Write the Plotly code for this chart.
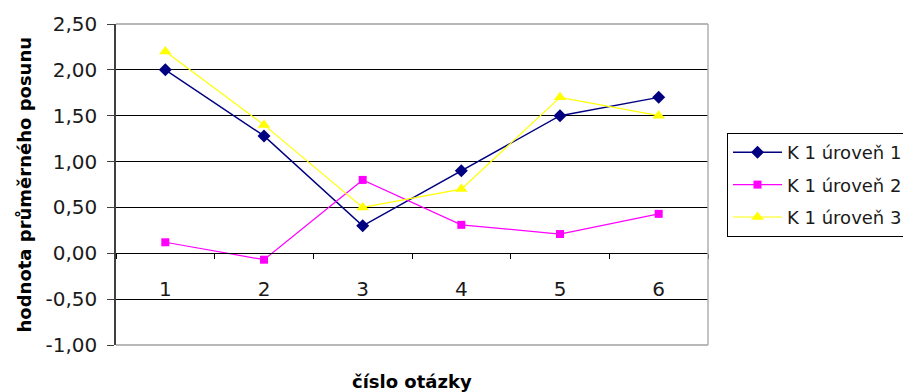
import plotly.graph_objects as go

# Question numbers (category axis) and mean shift per level
questions = ["1", "2", "3", "4", "5", "6"]
level_1 = [2.00, 1.28, 0.30, 0.90, 1.50, 1.70]
level_2 = [0.12, -0.07, 0.80, 0.31, 0.21, 0.43]
level_3 = [2.20, 1.40, 0.50, 0.70, 1.70, 1.50]

series_names = ["K 1 úroveň 1", "K 1 úroveň 2", "K 1 úroveň 3"]

y_tick_values = [-1.0, -0.5, 0.0, 0.5, 1.0, 1.5, 2.0, 2.5]
y_tick_labels = ["-1,00", "-0,50", "0,00", "0,50", "1,00", "1,50", "2,00", "2,50"]

Y_MIN, Y_MAX = -1.0, 2.5
TICK_FONT = dict(family="DejaVu Sans", size=20, color="#1a1a1a")

styles = [
    dict(color="#000080", symbol="diamond", size=10, width=1.4),
    dict(color="#FF00FF", symbol="square", size=8, width=1.2),
    dict(color="#FFFF00", symbol="triangle-up", size=11, width=1.2),
]

fig = go.Figure()
for name, values, st in zip(series_names, [level_1, level_2, level_3], styles):
    fig.add_trace(go.Scatter(
        x=questions, y=values, name=name, legendgroup=name,
        mode="lines+markers",
        line=dict(color=st["color"], width=st["width"]),
        marker=dict(color=st["color"], symbol=st["symbol"], size=st["size"],
                    line=dict(width=0)),
    ))

# x axis crosses the value axis at zero
zero_pos = (0 - Y_MIN) / (Y_MAX - Y_MIN)

fig.update_layout(
    width=903, height=392,
    margin=dict(l=116, r=195, t=24, b=47, autoexpand=False),
    paper_bgcolor="white", plot_bgcolor="white",
    showlegend=True,
    legend=dict(
        x=(727 - 116) / 592, y=(345 - 133) / 321,
        xanchor="left", yanchor="top",
        bordercolor="black", borderwidth=1, bgcolor="white",
        font=dict(family="DejaVu Sans", size=18, color="#1a1a1a"),
        tracegroupgap=6, itemwidth=49,
    ),
    xaxis=dict(
        type="category", categoryorder="array", categoryarray=questions,
        range=[-0.5, 5.5],
        anchor="free", position=zero_pos,
        showline=True, linecolor="black", linewidth=1,
        ticks="outside", tickson="boundaries", ticklen=5, tickcolor="black",
        ticklabelstandoff=18,
        showgrid=False, zeroline=False,
        tickfont=TICK_FONT,
    ),
    yaxis=dict(
        range=[Y_MIN, Y_MAX],
        tickvals=y_tick_values, ticktext=y_tick_labels,
        showline=True, linecolor="#404040", linewidth=1.5,
        ticks="outside", ticklen=7, tickcolor="#404040",
        ticklabelstandoff=6,
        showgrid=True, gridcolor="black", gridwidth=1,
        zeroline=False,
        tickfont=TICK_FONT,
    ),
    shapes=[
        dict(type="line", xref="x domain", yref="y domain",
             x0=0, x1=1, y0=1, y1=1, line=dict(color="#a0a0a0", width=1.5)),
        dict(type="line", xref="x domain", yref="y domain",
             x0=0, x1=1, y0=0, y1=0, line=dict(color="#a0a0a0", width=1.5)),
        dict(type="line", xref="x domain", yref="y domain",
             x0=1, x1=1, y0=0, y1=1, line=dict(color="#b0b0b0", width=1.5)),
    ],
    annotations=[
        dict(text="<b>hodnota průměrného posunu</b>", textangle=-90,
             xref="paper", yref="paper", x=(24 - 116) / 592, y=0.5,
             xanchor="center", yanchor="middle", showarrow=False,
             font=dict(family="DejaVu Sans", size=18, color="black")),
        dict(text="<b>číslo otázky</b>",
             xref="paper", yref="paper", x=0.5, y=(345 - 381) / 321,
             xanchor="center", yanchor="middle", showarrow=False,
             font=dict(family="DejaVu Sans", size=18, color="black")),
    ],
)

fig.write_html("out.html")
